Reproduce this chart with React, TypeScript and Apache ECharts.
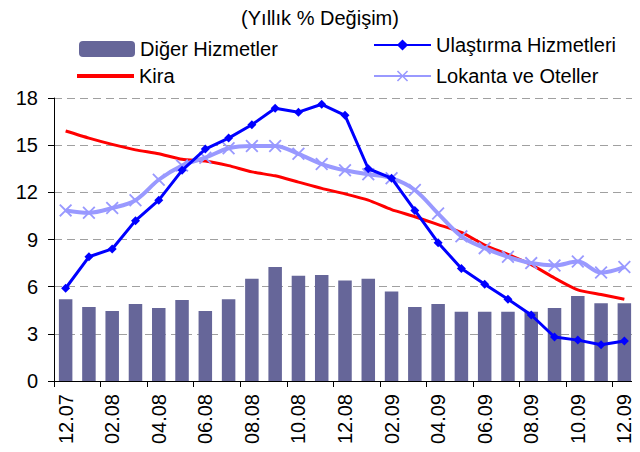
import React, { useEffect, useRef } from "react";
import * as echarts from "echarts";

const categories = [
  "12.07", "01.08", "02.08", "03.08", "04.08", "05.08", "06.08", "07.08", "08.08", "09.08", "10.08", "11.08", "12.08",
  "01.09", "02.09", "03.09", "04.09", "05.09", "06.09", "07.09", "08.09", "09.09", "10.09", "11.09", "12.09",
];
const digerHizmetler = [5.2, 4.7, 4.45, 4.9, 4.65, 5.15, 4.45, 5.2, 6.5, 7.25, 6.7, 6.75, 6.4, 6.5, 5.7, 4.7, 4.9, 4.4, 4.4, 4.4, 4.4, 4.65, 5.4, 4.95, 4.95];
const ulastirma = [5.9, 7.9, 8.4, 10.2, 11.5, 13.4, 14.75, 15.45, 16.3, 17.35, 17.1, 17.6, 16.9, 13.5, 12.9, 10.85, 8.8, 7.15, 6.15, 5.2, 4.2, 2.8, 2.6, 2.3, 2.55];
const kira = [15.9, 15.45, 15.05, 14.7, 14.45, 14.1, 14.0, 13.7, 13.3, 13.05, 12.65, 12.25, 11.9, 11.5, 10.9, 10.45, 9.95, 9.45, 8.65, 8.05, 7.4, 6.55, 5.8, 5.5, 5.2];
const lokanta = [10.85, 10.7, 11.0, 11.5, 12.8, 13.7, 14.2, 14.8, 14.95, 14.95, 14.45, 13.8, 13.4, 13.15, 12.9, 12.15, 10.65, 9.2, 8.45, 7.9, 7.5, 7.35, 7.6, 6.9, 7.25];
const yTicks = { min: 0, max: 18, interval: 3 };

const FONT = "Liberation Sans, Arial, sans-serif";
const XSYM = "path://M0,1 L1,0 L5,4 L9,0 L10,1 L6,5 L10,9 L9,10 L5,6 L1,10 L0,9 L4,5 Z";

export default function App() {
  const ref = useRef<HTMLDivElement>(null);
  useEffect(() => {
    if (!ref.current) return;
    const chart = echarts.init(ref.current, null, { renderer: "svg" });
    const legendText = { fontSize: 20, color: "#000", fontFamily: FONT };
    chart.setOption({
      animation: false,
      backgroundColor: "#fff",
      textStyle: { fontFamily: FONT },
      title: {
        text: "(Yıllık % Değişim)",
        left: "center",
        top: 3,
        textStyle: { fontSize: 20, fontWeight: "normal", color: "#000", fontFamily: FONT },
      },
      legend: [
        { data: ["Diğer Hizmetler"], left: 79, top: 39, padding: 0, itemWidth: 56, itemHeight: 16, textStyle: legendText, selectedMode: false },
        { data: ["Ulaştırma Hizmetleri"], left: 373, top: 35, padding: 0, itemWidth: 57, itemHeight: 14, textStyle: legendText, selectedMode: false },
        { data: [{ name: "Kira", icon: "rect" }], left: 77, top: 66, padding: 0, itemWidth: 57, itemHeight: 4, textStyle: legendText, selectedMode: false },
        { data: ["Lokanta ve Oteller"], left: 373, top: 66, padding: 0, itemWidth: 57, itemHeight: 14, textStyle: legendText, selectedMode: false },
      ],
      grid: { left: 54, right: 4, top: 98, bottom: 71 },
      xAxis: {
        type: "category",
        data: categories,
        boundaryGap: true,
        axisLine: { show: true, lineStyle: { color: "#000", width: 1 } },
        axisTick: { show: true, interval: 1, length: 6, lineStyle: { color: "#000" } },
        axisLabel: { interval: 1, rotate: 90, fontSize: 20, color: "#000", fontFamily: FONT, margin: 13 },
      },
      yAxis: {
        type: "value",
        min: yTicks.min,
        max: yTicks.max,
        interval: yTicks.interval,
        axisLine: { show: true, lineStyle: { color: "#000", width: 1 } },
        axisTick: { show: true, length: 6, lineStyle: { color: "#000" } },
        axisLabel: { fontSize: 20, color: "#000", fontFamily: FONT, margin: 16 },
        splitLine: { show: true, lineStyle: { color: "#a0a0a0", type: [8, 5], width: 1 } },
      },
      series: [
        {
          name: "Diğer Hizmetler",
          type: "bar",
          data: digerHizmetler,
          barWidth: "58%",
          itemStyle: { color: "#666699" },
          z: 1,
        },
        {
          name: "Kira",
          type: "line",
          data: kira,
          smooth: 0.2,
          symbol: "none",
          lineStyle: { color: "#ff0000", width: 3 },
          itemStyle: { color: "#ff0000" },
          z: 2,
        },
        {
          name: "Lokanta ve Oteller",
          type: "line",
          data: lokanta,
          smooth: 0.35,
          symbol: XSYM,
          symbolSize: 13,
          lineStyle: { color: "#9999ff", width: 4 },
          itemStyle: { color: "#9999ff" },
          z: 3,
        },
        {
          name: "Ulaştırma Hizmetleri",
          type: "line",
          data: ulastirma,
          symbol: "diamond",
          symbolSize: 9,
          lineStyle: { color: "#0000ff", width: 3 },
          itemStyle: { color: "#0000ff" },
          z: 4,
        },
      ],
    });
    return () => chart.dispose();
  }, []);
  return <div ref={ref} style={{ width: 640, height: 452, margin: -8 }} />;
}
